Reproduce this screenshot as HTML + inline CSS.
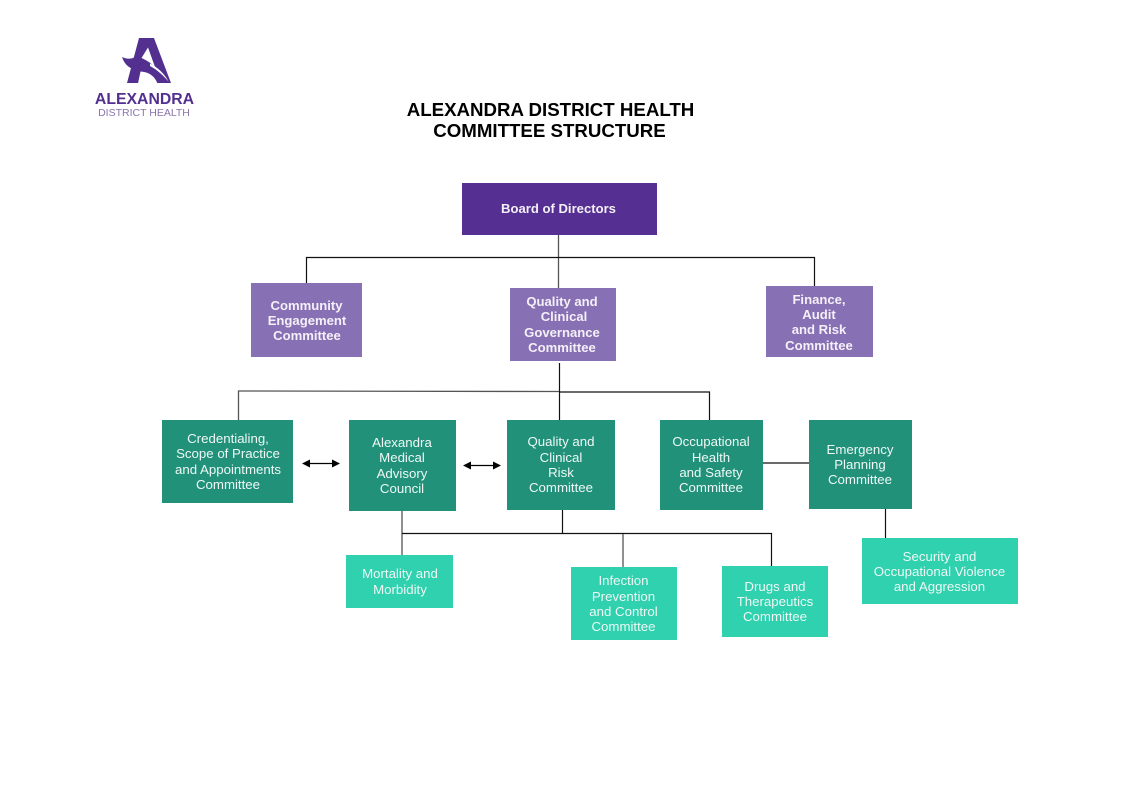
<!DOCTYPE html>
<html>
<head>
<meta charset="utf-8">
<style>
html,body{margin:0;padding:0;background:#fff;}
svg{display:block;}
text{font-family:"Liberation Sans",Arial,sans-serif;text-anchor:middle;}
.w{fill:#eef8f5;font-size:13.25px;}
.b{fill:#f4f0f8;font-size:13.1px;font-weight:bold;}
.t{fill:#000;font-size:18.7px;font-weight:bold;}
.l{stroke:#111;stroke-width:1.2;fill:none;}
.g{stroke:#555;stroke-width:1.3;fill:none;}
</style>
</head>
<body>
<svg width="1122" height="793" viewBox="0 0 1122 793" xmlns="http://www.w3.org/2000/svg">
<rect width="1122" height="793" fill="#fff"/>

<!-- logo -->
<path d="M139 38H154L171 83H127Z" fill="#53308f"/>
<path d="M122 57C126 59 130 59 133 58L137 56L140 70C131 70 125 66 122 57Z" fill="#53308f"/>
<path d="M140.500 71.500L138 83.500H157.500C154.500 76 149 72 140.500 71.500Z" fill="#fff"/>
<path d="M148 47.500L141.500 58C146 60 151 63 155 67Z" fill="#fff"/>
<path d="M150 63.500C157 67 164 73 168.500 81.500C162 74 157 70 150 66Z" fill="#fff"/>
<text x="144.500" y="104" style="font-size:15.800px;font-weight:bold;fill:#53308f;">ALEXANDRA</text>
<text x="144" y="116" style="font-size:10.500px;fill:#8a74ad;">DISTRICT HEALTH</text>

<!-- title -->
<text class="t" x="550.500" y="116">ALEXANDRA DISTRICT HEALTH</text>
<text class="t" x="549.500" y="137">COMMITTEE STRUCTURE</text>

<!-- connectors -->
<path class="g" d="M558.500 235V288"/>
<path class="l" d="M306.500 283V257.500H814.500V286"/>
<path class="l" d="M559.500 363V420"/>
<path class="g" d="M238.500 420V391L559 391.500"/>
<path class="l" d="M559 392H709.500V420"/>
<path class="l" d="M763 463H809"/>
<path class="l" d="M885.500 509V538"/>
<path class="g" d="M402 511V555"/>
<path class="l" d="M402 533.500H771.500V566"/>
<path class="l" d="M562.500 510V533"/>
<path class="g" d="M623 534V567"/>

<!-- double arrows -->
<path d="M309 463.500H334" stroke="#000" stroke-width="1.300"/>
<path d="M302 463.500L310 459.500V467.500ZM340 463.500L332 459.500V467.500Z" fill="#000"/>
<path d="M470 465.500H495" stroke="#000" stroke-width="1.300"/>
<path d="M463 465.500L471 461.500V469.500ZM501 465.500L493 461.500V469.500Z" fill="#000"/>

<!-- boxes -->
<rect x="462" y="183" width="195" height="52" fill="#552f91"/>
<rect x="251" y="283" width="111" height="74" fill="#8870b4"/>
<rect x="510" y="288" width="106" height="73" fill="#8870b4"/>
<rect x="766" y="286" width="107" height="71" fill="#8870b4"/>
<rect x="162" y="420" width="131" height="83" fill="#21917a"/>
<rect x="349" y="420" width="107" height="91" fill="#21917a"/>
<rect x="507" y="420" width="108" height="90" fill="#21917a"/>
<rect x="660" y="420" width="103" height="90" fill="#21917a"/>
<rect x="809" y="420" width="103" height="89" fill="#21917a"/>
<rect x="346" y="555" width="107" height="53" fill="#2fd1ae"/>
<rect x="571" y="567" width="106" height="73" fill="#2fd1ae"/>
<rect x="722" y="566" width="106" height="71" fill="#2fd1ae"/>
<rect x="862" y="538" width="156" height="66" fill="#2fd1ae"/>

<!-- purple labels -->
<text class="b" x="558.500" y="213">Board of Directors</text>
<text class="b" x="306.500" y="310">Community</text>
<text class="b" x="307" y="325">Engagement</text>
<text class="b" x="307" y="340">Committee</text>
<text class="b" x="562" y="306">Quality and</text>
<text class="b" x="564" y="321">Clinical</text>
<text class="b" x="562" y="337">Governance</text>
<text class="b" x="562" y="352">Committee</text>
<text class="b" x="819" y="304">Finance,</text>
<text class="b" x="819" y="319">Audit</text>
<text class="b" x="819" y="334">and Risk</text>
<text class="b" x="819" y="350">Committee</text>

<!-- dark green labels -->
<text class="w" x="228" y="443">Credentialing,</text>
<text class="w" x="228" y="458">Scope of Practice</text>
<text class="w" x="228" y="474">and Appointments</text>
<text class="w" x="228" y="489">Committee</text>
<text class="w" x="402" y="447">Alexandra</text>
<text class="w" x="402" y="462">Medical</text>
<text class="w" x="402" y="478">Advisory</text>
<text class="w" x="402" y="493">Council</text>
<text class="w" x="561" y="446">Quality and</text>
<text class="w" x="561" y="462">Clinical</text>
<text class="w" x="561" y="477">Risk</text>
<text class="w" x="561" y="492">Committee</text>
<text class="w" x="711" y="446">Occupational</text>
<text class="w" x="711" y="462">Health</text>
<text class="w" x="711" y="477">and Safety</text>
<text class="w" x="711" y="492">Committee</text>
<text class="w" x="860" y="454">Emergency</text>
<text class="w" x="860" y="469">Planning</text>
<text class="w" x="860" y="484">Committee</text>

<!-- light green labels -->
<text class="w" x="400" y="578">Mortality and</text>
<text class="w" x="400" y="594">Morbidity</text>
<text class="w" x="623.500" y="585">Infection</text>
<text class="w" x="623.500" y="601">Prevention</text>
<text class="w" x="623.500" y="616">and Control</text>
<text class="w" x="623.500" y="631">Committee</text>
<text class="w" x="775" y="591">Drugs and</text>
<text class="w" x="775" y="606">Therapeutics</text>
<text class="w" x="775" y="621">Committee</text>
<text class="w" x="939.500" y="561">Security and</text>
<text class="w" x="939.500" y="576">Occupational Violence</text>
<text class="w" x="939.500" y="591">and Aggression</text>
</svg>
</body>
</html>
